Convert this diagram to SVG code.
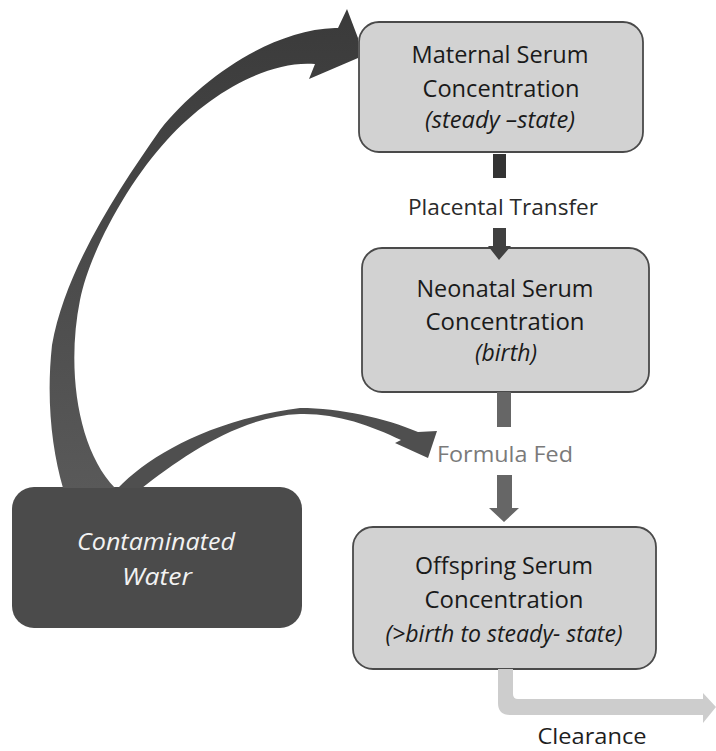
<svg xmlns="http://www.w3.org/2000/svg" width="716" height="751" viewBox="0 0 716 751">
<defs>
<linearGradient id="gBig" x1="0" y1="0" x2="0" y2="1">
<stop offset="0" stop-color="#3a3a3a"/>
<stop offset="1" stop-color="#595959"/>
</linearGradient>
<style>
.box{fill:#d2d2d2;stroke:#4a4a4a;stroke-width:1.8}
.dark{fill:#4b4b4b}
.t{font-family:"Open Sans","Liberation Sans",sans-serif;font-size:23px;fill:#1a1a1a;text-anchor:middle}
.i{font-style:italic}
.w{fill:#f2f2f2}
.lbl{font-family:"Open Sans","Liberation Sans",sans-serif;font-size:22px;text-anchor:middle}
</style>
</defs>
<rect width="716" height="751" fill="#ffffff"/>
<g id="maternal">
<rect class="box" x="359" y="22" width="284" height="130" rx="20"/>
<text class="t" x="500" y="63" textLength="177" lengthAdjust="spacingAndGlyphs">Maternal Serum</text>
<text class="t" x="501" y="97" textLength="157" lengthAdjust="spacingAndGlyphs">Concentration</text>
<text class="t i" x="500" y="128" textLength="150" lengthAdjust="spacingAndGlyphs">(steady –state)</text>
</g>
<g id="neonatal">
<rect class="box" x="362" y="248" width="287" height="144" rx="20"/>
<text class="t" x="505" y="297" textLength="177" lengthAdjust="spacingAndGlyphs">Neonatal Serum</text>
<text class="t" x="505" y="330" textLength="159" lengthAdjust="spacingAndGlyphs">Concentration</text>
<text class="t i" x="506" y="361" textLength="62" lengthAdjust="spacingAndGlyphs">(birth)</text>
</g>
<g id="offspring">
<rect class="box" x="353" y="527" width="303" height="142" rx="20"/>
<text class="t" x="504" y="574" textLength="178" lengthAdjust="spacingAndGlyphs">Offspring Serum</text>
<text class="t" x="504" y="608" textLength="159" lengthAdjust="spacingAndGlyphs">Concentration</text>
<text class="t i" x="504" y="642" textLength="237" lengthAdjust="spacingAndGlyphs">(&gt;birth to steady- state)</text>
</g>
<g id="water">
<rect class="dark" x="12" y="487" width="290" height="141" rx="22"/>
<text class="t i w" x="156" y="550" textLength="158" lengthAdjust="spacingAndGlyphs">Contaminated</text>
<text class="t i w" x="157" y="585" textLength="70" lengthAdjust="spacingAndGlyphs">Water</text>
</g>
<g id="connectors">
<path d="M 63,488 C 52,450 46,400 52,345 C 65,270 118,190 160,130 C 200,80 270,30 335,28 L 338,28 L 347,9 L 358,38 L 358,58 L 309,79 L 315,64 C 270,60 210,92 167,140 C 130,180 90,250 80,300 C 66,370 78,450 115,488 Z" fill="url(#gBig)"/>
<path d="M 118,488 C 150,455 210,420 300,408 C 340,408 385,418 418,432 L 437,431 L 428,458 L 395,443 L 401,440 C 370,425 335,413 300,414 C 240,416 180,458 142,488 Z" fill="#4f4f4f"/>
<rect x="493" y="154" width="13" height="24" fill="#333333"/>
<path d="M 493,228 L 506,228 L 506,246 L 511,246 L 499,260 L 488,246 L 493,246 Z" fill="#404040"/>
<rect x="497" y="392" width="14" height="35" fill="#666666"/>
<path d="M 497,475 L 512,475 L 512,508 L 519,508 L 504,522 L 489,508 L 497,508 Z" fill="#666666"/>
<path d="M 498,669 L 498,703 Q 498,715 510,715 L 703,715 L 703,723 L 716,707 L 703,693 L 703,699 L 518,699 Q 513,699 513,694 L 513,669 Z" fill="#cdcdcd"/>
</g>
<g id="labels">
<text class="lbl" x="503" y="215" fill="#2a2a2a" textLength="190" lengthAdjust="spacingAndGlyphs">Placental Transfer</text>
<text class="lbl" x="505" y="462" fill="#7a7a7a" textLength="136" lengthAdjust="spacingAndGlyphs">Formula Fed</text>
<text class="lbl" x="592" y="744" fill="#1e1e1e" textLength="109" lengthAdjust="spacingAndGlyphs">Clearance</text>
</g>
</svg>
